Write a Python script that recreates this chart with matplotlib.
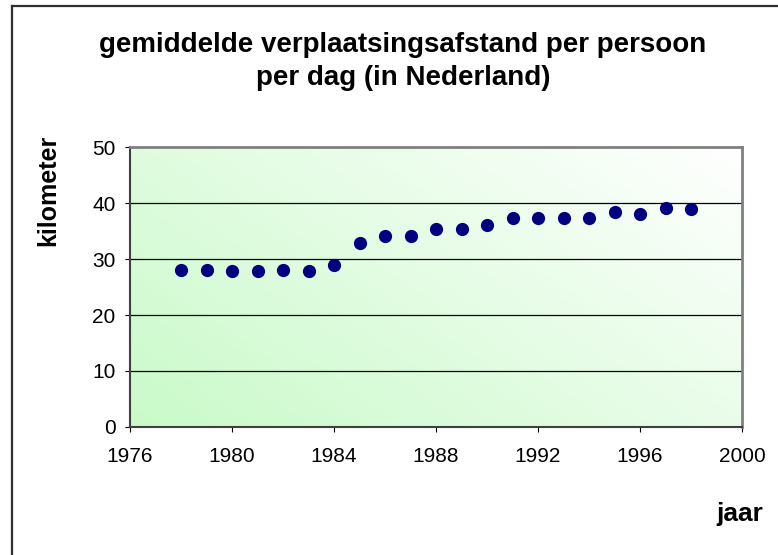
import numpy as np
import matplotlib.pyplot as plt
from matplotlib.lines import Line2D

# data
years = [1978, 1979, 1980, 1981, 1982, 1983, 1984, 1985, 1986, 1987, 1988,
         1989, 1990, 1991, 1992, 1993, 1994, 1995, 1996, 1997, 1998]
km = [28.0, 28.0, 27.8, 27.8, 28.0, 27.8, 28.9, 32.8, 34.1, 34.1, 35.3,
      35.3, 36.1, 37.3, 37.3, 37.3, 37.3, 38.4, 38.1, 39.1, 38.9]
x_ticks = [1976, 1980, 1984, 1988, 1992, 1996, 2000]
y_ticks = [0, 10, 20, 30, 40, 50]

plt.rcParams['font.family'] = ['Liberation Sans', 'DejaVu Sans']

fig = plt.figure(figsize=(7.78, 5.55), dpi=100)
ax = fig.add_axes([130/778, 1 - 427/555, 612/778, 280/555])

# gradient background: green bottom-left -> white top-right
n = 200
gx, gy = np.meshgrid(np.linspace(0, 1, n), np.linspace(0, 1, n))
t = np.clip((gx * 0.6 + gy * 0.4), 0, 1)
c0 = np.array([0.79, 0.98, 0.79])
c1 = np.array([1.0, 1.0, 1.0])
img = c0[None, None, :] * (1 - t[..., None]) + c1[None, None, :] * t[..., None]
ax.imshow(img, extent=[0, 1, 0, 1], transform=ax.transAxes, origin='lower',
          aspect='auto', zorder=0)

for y in y_ticks[1:-1]:
    ax.axhline(y, color='black', lw=0.9, zorder=1)

ax.plot(years, km, 'o', color='#000080', markersize=8.5, zorder=3)

ax.set_xlim(1976, 2000)
ax.set_ylim(0, 50)
ax.set_xticks(x_ticks)
ax.set_yticks(y_ticks)
ax.tick_params(labelsize=15, length=3.5, width=0.8, direction='out')
ax.tick_params(axis='x', pad=11)
ax.tick_params(axis='y', pad=7)

for s in ['top', 'right']:
    ax.spines[s].set_color('#808080')
    ax.spines[s].set_linewidth(2)
for s in ['left', 'bottom']:
    ax.spines[s].set_color('#404040')
    ax.spines[s].set_linewidth(1.5)

fig.text(403/778, 1 - 45/555, 'gemiddelde verplaatsingsafstand per persoon',
         ha='center', va='center', fontsize=20, fontweight='bold')
fig.text(403/778, 1 - 78/555, 'per dag (in Nederland)',
         ha='center', va='center', fontsize=20, fontweight='bold')
fig.text(48/778, 1 - 190/555, 'kilometer', rotation=90, ha='center',
         va='center', fontsize=18, fontweight='bold')
fig.text(763/778, 1 - 514/555, 'jaar', ha='right', va='center',
         fontsize=19, fontweight='bold')

# chart frame: only left and top edges fall inside the picture
fig.add_artist(Line2D([12/778, 12/778], [0, 1 - 6/555], color='#303030', lw=1.6))
fig.add_artist(Line2D([12/778, 1], [1 - 6/555, 1 - 6/555], color='#303030', lw=1.6))

fig.savefig('out.png', dpi=100)
